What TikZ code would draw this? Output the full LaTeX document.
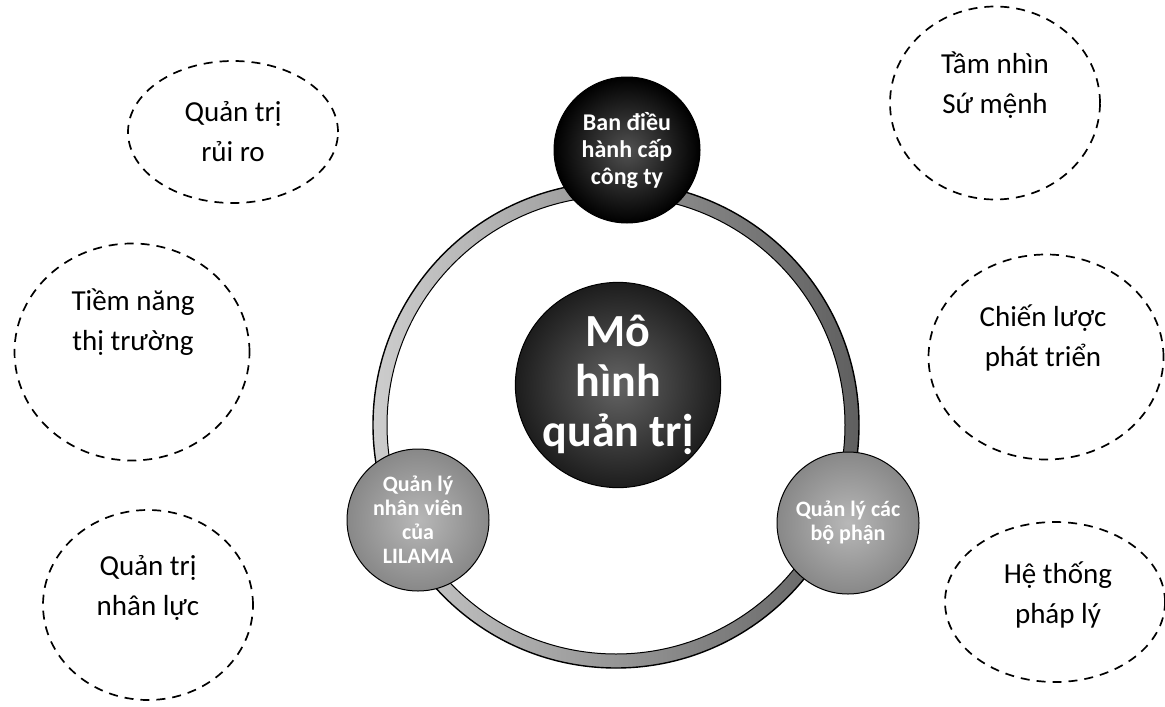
\documentclass[tikz,border=0pt]{standalone}
\usepackage{fontspec}
\setmainfont{Carlito}
\usetikzlibrary{shapes.geometric,calc}
\definecolor{boardGrey}{RGB}{38,38,38}
\definecolor{coreGrey}{RGB}{72,72,72}
\definecolor{sideGrey}{RGB}{160,160,160}
\definecolor{ringLight}{RGB}{205,205,205}
\definecolor{ringDark}{RGB}{95,95,95}
\tikzset{
  dashbubble/.style={draw, ellipse, line width=1.7pt, dash pattern=on 9pt off 7pt, inner sep=0pt},
  bubbletext/.style={align=center, font=\fontsize{29}{40}\selectfont},
  disc/.style={circle, draw=black, line width=1pt, text=white, align=center, inner sep=0pt},
  topdisc/.style={disc, minimum size=146pt, inner color=boardGrey!80, outer color=black,
    font=\bfseries\fontsize{24}{27}\selectfont},
  sidedisc/.style={disc, minimum size=142pt, inner color=sideGrey!75, outer color=sideGrey!85!black,
    font=\bfseries\fontsize{22}{24}\selectfont},
  coredisc/.style={disc, minimum size=198pt, inner color=coreGrey!85, outer color=coreGrey!40!black,
    font=\bfseries\fontsize{46}{50}\selectfont}
}

\begin{document}
\begin{tikzpicture}[x=1pt,y=-1pt]
  \useasboundingbox (0,0) rectangle (1165,707);
  % ring behind the three discs
  \coordinate (hub) at (616,425);
  \shade[even odd rule, left color=ringLight, right color=ringDark]
    (hub) circle (243pt) (hub) circle (229pt);
  \draw[line width=1.4pt] (hub) circle (243pt);
  \draw[line width=1pt] (hub) circle (229pt);

  \node[coredisc] (model) at (618,385) {Mô\\hình\\quản trị};
  \node[topdisc] (board) at (627,150) {Ban điều\\hành cấp\\công ty};
  \node[sidedisc] (staff) at (418,520) {Quản lý\\nhân viên\\của\\LILAMA};
  \node[sidedisc] (units) at (848,523) {Quản lý các\\bộ phận};

  % dashed bubbles round the model
  \node[dashbubble, minimum width=210pt, minimum height=142pt] (risk) at (233,132) {};
  \node[dashbubble, minimum width=210pt, minimum height=193pt] (vision) at (995,103) {};
  \node[dashbubble, minimum width=235pt, minimum height=217pt] (market) at (132,352) {};
  \node[dashbubble, minimum width=235pt, minimum height=205pt] (strategy) at (1046,357) {};
  \node[dashbubble, minimum width=210pt, minimum height=190pt] (hr) at (148,605) {};
  \node[dashbubble, minimum width=220pt, minimum height=160pt] (legal) at (1055,602) {};

  \node[bubbletext] (risk-t) at (risk) {Quản trị\\rủi ro};
  \node[bubbletext] (vision-t) at ($(vision)+(0,-18)$) {Tầm nhìn\\Sứ mệnh};
  \node[bubbletext] (market-t) at ($(market)+(1,-30)$) {Tiềm năng\\thị trường};
  \node[bubbletext] (strategy-t) at ($(strategy)+(-3,-19)$) {Chiến lược\\phát triển};
  \node[bubbletext] (hr-t) at ($(hr)+(0,-17)$) {Quản trị\\nhân lực};
  \node[bubbletext] (legal-t) at ($(legal)+(3,-7)$) {Hệ thống\\pháp lý};
\end{tikzpicture}
\end{document}
